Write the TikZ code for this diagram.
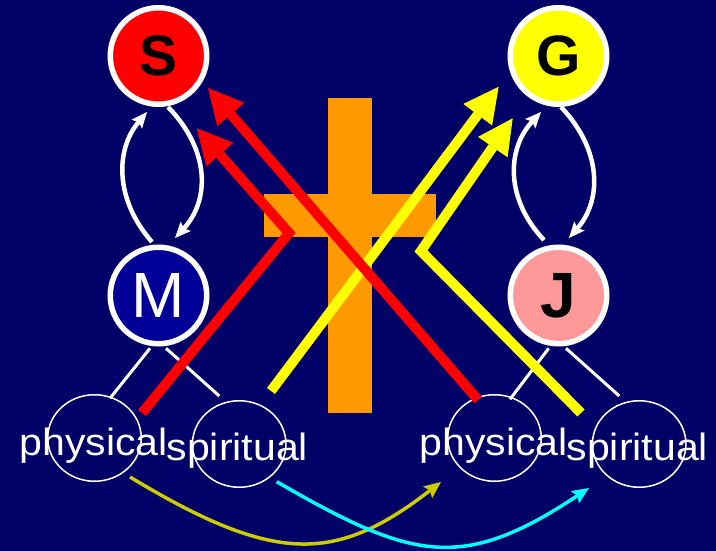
\documentclass[tikz,border=0pt]{standalone}
\usepackage{graphicx}
\usepackage{fontspec}
\setmainfont{Liberation Sans}
\usetikzlibrary{arrows.meta,shapes.geometric,calc}
\definecolor{bg}{RGB}{0,0,102}
\definecolor{mblue}{RGB}{0,0,153}
\definecolor{jpink}{RGB}{255,153,153}
\definecolor{crossor}{RGB}{255,153,0}
\definecolor{olivec}{RGB}{204,204,0}
\definecolor{cyanc}{RGB}{0,255,255}
\definecolor{redc}{RGB}{255,0,0}
\definecolor{yelc}{RGB}{255,255,0}
\begin{document}
\begin{tikzpicture}[x=1pt,y=-1pt,
  circ/.style={circle,draw=white,line width=5.5pt,minimum size=96.5pt,inner sep=0pt,outer sep=0pt},
  ell/.style={ellipse,draw=white,line width=1.5pt,minimum width=93.5pt,minimum height=86.5pt,inner sep=0pt},
  lbl/.style={text=white,inner sep=0pt,anchor=base,font=\fontsize{38}{40}\selectfont},
  twig/.style={white,line width=3pt},
  loop/.style={white,line width=4.5pt,-{Stealth[length=16pt,width=14pt,inset=3pt,line width=0pt]}},
  bigred/.style={redc,line width=10pt,line join=miter,-{Triangle[length=35pt,width=36pt,line width=0pt]}},
  bigyel/.style={yelc,line width=10pt,line join=miter,-{Triangle[length=35pt,width=36pt,line width=0pt]}},
  olivearr/.style={olivec,line width=3.5pt,-{Stealth[length=17pt,width=15pt,inset=3pt,line width=0pt]}},
  cyanarr/.style={cyanc,line width=3.5pt,-{Stealth[length=17pt,width=15pt,inset=3pt,line width=0pt]}}
]
\useasboundingbox (0,0) rectangle (716,551);
\fill[bg] (0,0) rectangle (716,551);
% cross
\fill[crossor] (328,98) rectangle (372,413);
\fill[crossor] (264,194) rectangle (436,237);
% circles
\node[circ,fill=redc,font=\bfseries\fontsize{57}{60}\selectfont] (S) at (158.5,56) {S};
\node[circ,fill=yelc,font=\bfseries\fontsize{57}{60}\selectfont] (G) at (558.5,56) {G};
\node[circ,fill=mblue,text=white,font=\fontsize{64}{66}\selectfont] (M) at (158.5,295.5) {M};
\node[circ,fill=jpink,font=\bfseries\fontsize{64}{66}\selectfont] (J) at (558.5,295.5) {J};
% ellipses
\node[ell] (pL) at (94.5,438) {};
\node[ell] (sL) at (239.2,444) {};
\node[ell] (pR) at (494.5,438) {};
\node[ell] (sR) at (639.2,444) {};
% labels
\node[lbl] (tpL) at (93.7,455) {\scalebox{1.08}[1]{physical}};
\node[lbl] (tsL) at (237.3,460) {\scalebox{1.08}[1]{spiritual}};
\node[lbl] (tpR) at (493.7,455) {\scalebox{1.08}[1]{physical}};
\node[lbl] (tsR) at (637.3,460) {\scalebox{1.08}[1]{spiritual}};
% twigs
\draw[twig] ($(M)+(-8.5,52.8)$) -- ($(pL)+(15.5,-39.7)$);
\draw[twig] ($(M)+(7.5,52.8)$) -- ($(sL)+(-19.9,-48)$);
\draw[twig] ($(J)+(-9.8,52.8)$) -- ($(pR)+(15.5,-38.7)$);
\draw[twig] ($(J)+(7.5,52.8)$) -- ($(sR)+(-19.9,-48)$);
% loops
\draw[loop] ($(M)+(-6.5,-53.5)$) .. controls +(-37,-42) and +(-32,38) .. ($(S)+(-11.5,56)$);
\draw[loop] ($(S)+(9.5,51)$) .. controls +(42,43) and +(35,-38) .. ($(M)+(16.5,-57.5)$);
\draw[loop] ($(J)+(-14.5,-55.5)$) .. controls +(-38,-40) and +(-35,38) .. ($(G)+(-17.5,56)$);
\draw[loop] ($(G)+(2.5,51)$) .. controls +(41,43) and +(33,-38) .. ($(J)+(10.5,-57.5)$);
% big arrows
\coordinate (ybend) at (421,251);
\coordinate (rbend) at (289,233);
\draw[bigyel] ($(sL)+(31.8,-53)$) -- ($(G)+(-59.8,30.7)$);
\draw[bigyel] ($(sR)+(-58.2,-31)$) -- (ybend) -- ($(G)+(-45.8,62.3)$);
\draw[bigred] ($(pR)+(-16.5,-38)$) -- ($(S)+(49.5,32)$);
\draw[bigred] ($(pL)+(47.5,-25)$) -- (rbend) -- ($(S)+(38.2,72.3)$);
% bottom curves
\draw[olivearr] ($(pL)+(35.5,39)$) .. controls +(144.7,87.4) and +(-105.7,81.6) .. ($(pR)+(-53.5,44)$);
\draw[cyanarr] ($(sL)+(37.5,37.7)$) .. controls +(135.7,78.5) and +(-127.5,84.5) .. ($(sR)+(-50.2,44)$);
\end{tikzpicture}
\end{document}
